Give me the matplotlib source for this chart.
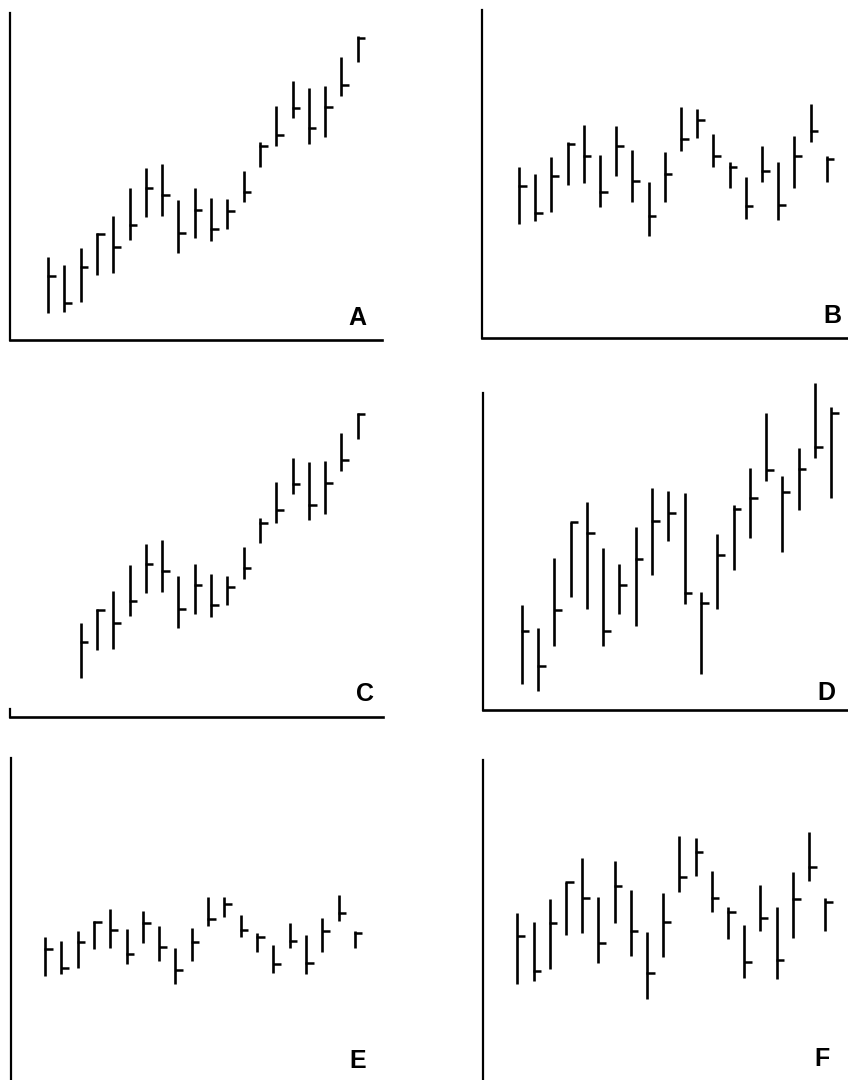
import matplotlib
matplotlib.use("Agg")
import matplotlib.pyplot as plt

plt.rcParams['font.family'] = ['Liberation Sans', 'DejaVu Sans']

# bar charts: high, low, close per bar (height above the panel base)

# A - uptrend
a_high  = [83, 75, 92, 107, 124, 152, 172, 176, 140, 152, 142, 141, 169, 198, 234, 259, 252, 254, 283, 304]
a_low   = [27, 28, 38, 65, 67, 100, 123, 124, 87, 102, 99, 111, 138, 173, 194, 222, 196, 203, 244, 278]
a_close = [64, 37, 73, 106, 93, 115, 152, 145, 107, 130, 111, 129, 148, 194, 205, 232, 212, 233, 255, 302]

# B - sideways
b_high  = [171, 164, 181, 196, 213, 183, 212, 188, 156, 186, 231, 229, 204, 176, 161, 192, 176, 202, 234, 182]
b_low   = [114, 117, 126, 153, 155, 131, 162, 136, 102, 136, 187, 200, 171, 150, 119, 156, 118, 150, 196, 156]
b_close = [152, 125, 162, 194, 182, 146, 192, 157, 122, 164, 199, 218, 182, 171, 132, 167, 133, 182, 207, 179]

# C - uptrend, first two bars missing
c_index = list(range(2, 20))
c_high  = [94, 108, 126, 152, 173, 177, 141, 153, 143, 141, 170, 199, 235, 259, 255, 256, 284, 304]
c_low   = [39, 67, 68, 101, 124, 125, 89, 103, 100, 112, 138, 174, 194, 223, 197, 203, 246, 278]
c_close = [75, 107, 94, 116, 153, 146, 108, 132, 112, 130, 149, 194, 207, 233, 212, 234, 257, 303]

# D - uptrend, wide ranges
d_high  = [105, 82, 152, 188, 208, 162, 146, 183, 222, 219, 217, 118, 176, 205, 242, 297, 234, 262, 327, 303]
d_low   = [26, 19, 64, 113, 101, 64, 96, 84, 135, 169, 106, 36, 101, 140, 172, 229, 158, 200, 252, 212]
d_close = [79, 44, 100, 188, 177, 79, 125, 151, 189, 197, 117, 107, 155, 201, 212, 240, 218, 241, 263, 297]

# E - sideways, compressed
e_high  = [143, 139, 149, 159, 171, 151, 169, 154, 132, 152, 183, 183, 165, 147, 135, 157, 145, 162, 185, 149]
e_low   = [104, 106, 112, 131, 132, 116, 137, 119, 96, 119, 154, 163, 143, 128, 107, 132, 106, 128, 159, 132]
e_close = [131, 112, 138, 158, 150, 126, 157, 133, 110, 138, 161, 176, 150, 143, 116, 139, 117, 149, 167, 147]

# F - sideways, expanded
f_high  = [167, 158, 181, 198, 222, 183, 219, 190, 148, 187, 244, 242, 209, 173, 155, 195, 173, 208, 248, 182]
f_low   = [96, 99, 111, 145, 147, 117, 157, 124, 81, 123, 188, 204, 168, 141, 102, 149, 101, 142, 199, 149]
f_close = [144, 109, 157, 198, 182, 137, 194, 149, 107, 158, 203, 228, 182, 168, 118, 162, 120, 181, 213, 178]

fig = plt.figure(figsize=(8.48, 10.8), dpi=100)


def draw_bars(ax, idx, hi, lo, cl):
    ax.vlines(idx, lo, hi, color="black", linewidth=1.9, clip_on=False)
    ax.hlines(cl, [i - 0.04 for i in idx], [i + 0.47 for i in idx],
              color="black", linewidth=1.8, clip_on=False)


def setup(ax, xlim, ylim, label, lx, ly, bottom=True):
    ax.set_xlim(xlim)
    ax.set_ylim(ylim)
    ax.set_xticks([])
    ax.set_yticks([])
    for s in ["top", "right"]:
        ax.spines[s].set_visible(False)
    ax.spines["bottom"].set_visible(bottom)
    ax.spines["left"].set_linewidth(1.6)
    ax.spines["bottom"].set_linewidth(1.9)
    ax.patch.set_alpha(0)
    ax.text(lx, ly, label, transform=ax.transAxes, fontsize=18,
            fontweight="bold", ha="center", va="center")


idx20 = list(range(20))

axA = fig.add_axes([0.0118, 0.6852, 0.4387, 0.3028])
draw_bars(axA, idx20, a_high, a_low, a_close)
setup(axA, (-2.33, 20.49), (0, 327), "A", 0.933, 0.068)

axB = fig.add_axes([0.5684, 0.687, 0.4316, 0.3037])
draw_bars(axB, idx20, b_high, b_low, b_close)
setup(axB, (-2.28, 20.31), (0, 328), "B", 0.956, 0.068)

axC = fig.add_axes([0.0118, 0.3361, 0.4399, 0.3028])
draw_bars(axC, c_index, c_high, c_low, c_close)
setup(axC, (-2.33, 20.55), (0, 327), "C", 0.952, 0.07)
axC.spines["left"].set_bounds(0, 8)

axD = fig.add_axes([0.5696, 0.3426, 0.4304, 0.2935])
draw_bars(axD, idx20, d_high, d_low, d_close)
setup(axD, (-2.37, 20.02), (0, 317), "D", 0.942, 0.054)

axE = fig.add_axes([0.013, 0.0, 0.44, 0.2981])
draw_bars(axE, idx20, e_high, e_low, e_close)
setup(axE, (-2.09, 20.8), (0, 322), "E", 0.93, 0.059, bottom=False)

axF = fig.add_axes([0.5696, 0.0, 0.4304, 0.2963])
draw_bars(axF, idx20, f_high, f_low, f_close)
setup(axF, (-2.12, 20.4), (0, 320), "F", 0.93, 0.066, bottom=False)

fig.savefig("out.png", dpi=100)
